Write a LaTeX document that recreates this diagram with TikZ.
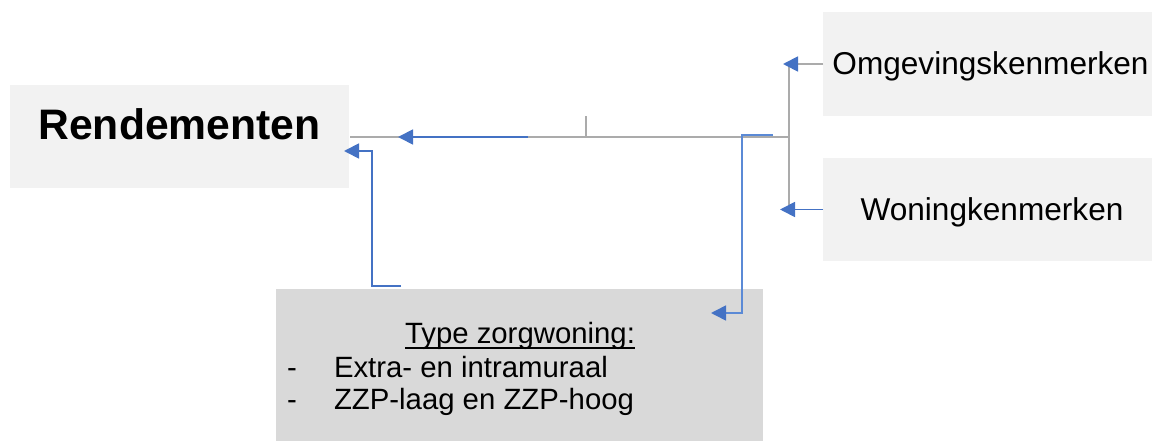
\documentclass[tikz,border=0pt]{standalone}
\usepackage{fontspec}
\setmainfont{Liberation Sans}
\usetikzlibrary{arrows.meta}
\definecolor{boxlight}{HTML}{F2F2F2}
\definecolor{boxdark}{HTML}{D9D9D9}
\definecolor{lnblue}{HTML}{4472C4}
\definecolor{lnblue2}{HTML}{5B8AD6}
\definecolor{lngray}{HTML}{ABABAB}
\tikzset{
  boxstyle/.style={draw=none, inner sep=0pt, outer sep=0pt, anchor=north west},
  txt/.style={inner sep=0pt, outer sep=0pt},
  grayline/.style={draw=lngray, line width=2.8*0.75pt},
  bluearr/.style={draw=lnblue, line width=1.8*0.75pt, -{Triangle[length=15*0.75pt, width=15*0.75pt]}},
  bluearrlight/.style={draw=lnblue2, line width=1.6*0.75pt, -{Triangle[length=15*0.75pt, width=15*0.75pt, color=lnblue]}},
}
\begin{document}
\begin{tikzpicture}[x=0.75pt, y=-0.75pt]
\useasboundingbox (0,0) rectangle (1152,441);
% boxes
\node[boxstyle, fill=boxlight, minimum width=339*0.75pt, minimum height=103*0.75pt] (R) at (10,85) {};
\node[boxstyle, fill=boxlight, minimum width=329*0.75pt, minimum height=104*0.75pt] (O) at (823,12) {};
\node[boxstyle, fill=boxlight, minimum width=329*0.75pt, minimum height=103*0.75pt] (W) at (823,158) {};
\node[boxstyle, fill=boxdark, minimum width=487*0.75pt, minimum height=152*0.75pt] (T) at (276,289) {};
% texts
\node[txt, anchor=base, font=\fontsize{32}{38}\selectfont\bfseries] (Rt) at (179.5,140) {Rendementen};
\node[txt, anchor=base, font=\fontsize{23.7}{28}\selectfont] (Ot) at (990.5,75) {Omgevingskenmerken};
\node[txt, anchor=base, font=\fontsize{23.7}{28}\selectfont] (Wt) at (992,221) {Woningkenmerken};
\node[txt, anchor=base, font=\fontsize{22}{26}\selectfont] (Tt) at (520,344) {Type zorgwoning:};
\draw[line width=1.6*0.75pt] ([yshift=-4.3*0.75pt]Tt.base west) -- ([yshift=-4.3*0.75pt]Tt.base east);
\node[txt, anchor=base west, font=\fontsize{22}{26}\selectfont] (d1) at (287,378) {-};
\node[txt, anchor=base west, font=\fontsize{22}{26}\selectfont] (l1) at (334,378) {Extra- en intramuraal};
\node[txt, anchor=base west, font=\fontsize{22}{26}\selectfont] (d2) at (287,409) {-};
\node[txt, anchor=base west, font=\fontsize{22}{26}\selectfont] (l2) at (334,409) {ZZP-laag en ZZP-hoog};
% coordinates
\coordinate (jo) at (789,64);
\coordinate (jw) at (789,209.5);
\coordinate (jm) at (789,137);
\coordinate (rl) at (350,137);
\coordinate (tk1) at (586,137);
\coordinate (tk2) at (586,116);
\coordinate (ma) at (528,137);
\coordinate (mb) at (398,137);
\coordinate (oa) at (797,64);
\coordinate (ob) at (783,64);
\coordinate (wb) at (780,209.5);
\coordinate (ra) at (773,135);
\coordinate (rb) at (742,135);
\coordinate (rc) at (742,313);
\coordinate (rd) at (711,313);
\coordinate (la) at (401,286);
\coordinate (lb) at (372,286);
\coordinate (lc) at (372,151);
\coordinate (ld) at (344,151);
% gray structure
\draw[grayline] (O.west) -- (jo) -- (jw);
\draw[grayline] (jm) -- (rl);
\draw[grayline] (tk1) -- (tk2);
% blue arrows
\draw[bluearr] (ma) -- (mb);
\draw[bluearr] (oa) -- (ob);
\draw[bluearr] (W.west) -- (wb);
\draw[bluearrlight] (ra) -- (rb) -- (rc) -- (rd);
\draw[bluearr] (la) -- (lb) -- (lc) -- (ld);
\end{tikzpicture}
\end{document}
